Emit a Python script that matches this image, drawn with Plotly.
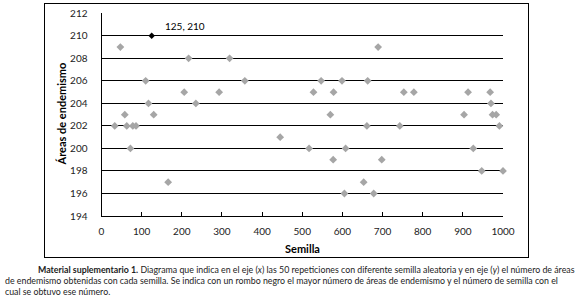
import plotly.graph_objects as go

# Data (seed, number of endemism areas)
seeds = [47, 217, 319, 110, 357, 206, 293, 117, 235, 58, 130, 33, 63, 78, 86, 72, 445, 166,
         689, 547, 599, 663, 528, 578, 753, 778, 913, 968, 970, 570, 903, 974, 983, 661,
         743, 991, 517, 608, 926, 577, 698, 947, 1000, 653, 605, 678]
areas = [209, 208, 208, 206, 206, 205, 205, 204, 204, 203, 203, 202, 202, 202, 202, 200, 201, 197,
         209, 206, 206, 206, 205, 205, 205, 205, 205, 205, 204, 203, 203, 203, 203, 202,
         202, 202, 200, 200, 200, 199, 199, 198, 198, 197, 196, 196]
best_seed = [125]
best_areas = [210]
best_label = "125, 210"

x_ticks = [0, 100, 200, 300, 400, 500, 600, 700, 800, 900, 1000]
y_ticks = [194, 196, 198, 200, 202, 204, 206, 208, 210, 212]

x_title = "Semilla"
y_title = "Áreas de endemismo"
caption_lines = [
    "<b>Material suplementario 1.</b> Diagrama que indica en el eje (<i>x</i>) las 50 repeticiones con diferente semilla aleatoria y en eje (<i>y</i>) el número de áreas",
    "de endemismo obtenidas con cada semilla. Se indica con un rombo negro el mayor número de áreas de endemismo y el número de semilla con el",
    "cual se obtuvo ese número.",
]

W, H = 576, 308
# frame (paper) in pixels
FL, FR, FT, FB = 45.0, 528.0, 4.0, 257.0
FW, FH = FR - FL, FB - FT
# plot area in pixels
L, R, T, B = 101.5, 503.0, 13.3, 216.0

def px(xp):
    return (xp - FL) / FW

def py(yp):
    return (FB - yp) / FH

FONT = "Lato"

fig = go.Figure()
# empty trace on a full-paper subplot, used only to draw the outer frame
fig.add_trace(go.Scatter(x=[], y=[], xaxis="x2", yaxis="y2", showlegend=False, hoverinfo="skip"))
fig.add_trace(go.Scatter(
    x=seeds, y=areas, mode="markers",
    marker=dict(symbol="diamond", size=6, color="#A6A6A6"),
    cliponaxis=False, showlegend=False,
))
fig.add_trace(go.Scatter(
    x=best_seed, y=best_areas, mode="markers",
    marker=dict(symbol="diamond", size=5, color="#000000"),
    cliponaxis=False, showlegend=False,
))

fig.add_annotation(x=best_seed[0], y=best_areas[0], text=best_label, showarrow=True,
                   arrowcolor="rgba(0,0,0,0)", ax=11, ay=-10, xanchor="left", yanchor="middle",
                   font=dict(family=FONT, size=10, color="#000"))

# axis titles
fig.add_annotation(x=px(302), y=py(248), xref="paper", yref="paper", text="<b>" + x_title + "</b>",
                   showarrow=False, xanchor="center", yanchor="middle",
                   font=dict(family=FONT, size=11, color="#000"))
fig.add_annotation(x=px(61), y=py(114.5), xref="paper", yref="paper", text="<b>" + y_title + "</b>",
                   showarrow=False, xanchor="center", yanchor="middle", textangle=-90,
                   font=dict(family=FONT, size=11, color="#000"))

# caption
cap_pos = [(36, 269), (3, 280), (3, 291)]
for (cx, cy), txt in zip(cap_pos, caption_lines):
    fig.add_annotation(x=px(cx), y=py(cy), xref="paper", yref="paper", text=txt,
                       showarrow=False, xanchor="left", yanchor="middle",
                       font=dict(family=FONT, size=8.8, color="#222"))

fig.update_layout(
    width=W, height=H,
    margin=dict(l=FL, r=W - FR, t=FT, b=H - FB, pad=0, autoexpand=False),
    paper_bgcolor="white", plot_bgcolor="rgba(0,0,0,0)",
    font=dict(family=FONT, color="#222"),
    xaxis=dict(domain=[px(L), px(R)], range=[0, 1000], tickvals=x_ticks, ticks="inside",
               ticklen=4, tickcolor="#000",
               showgrid=False, zeroline=False, showline=True, linecolor="#000", linewidth=1,
               tickfont=dict(size=10, color="#222"), ticklabelstandoff=6, automargin=False),
    yaxis=dict(domain=[py(B), py(T)], range=[194, 212], tickvals=y_ticks, ticks="",
               showgrid=True, gridcolor="#000", automargin=False,
               gridwidth=1, zeroline=False, showline=True, linecolor="#000", linewidth=1,
               tickfont=dict(size=10, color="#222"), ticklabelstandoff=11),
    xaxis2=dict(domain=[0, 1], anchor="y2", range=[0, 1], showline=True, mirror=True,
                linecolor="#000", linewidth=1.2, showticklabels=False, ticks="",
                showgrid=False, zeroline=False, fixedrange=True, automargin=False),
    yaxis2=dict(domain=[0, 1], anchor="x2", range=[0, 1], showline=True, mirror=True,
                linecolor="#000", linewidth=1.2, showticklabels=False, ticks="",
                showgrid=False, zeroline=False, fixedrange=True, automargin=False),
)

fig.write_html("out.html", config={"displayModeBar": False},
               post_script="document.body.style.margin='0px';")
